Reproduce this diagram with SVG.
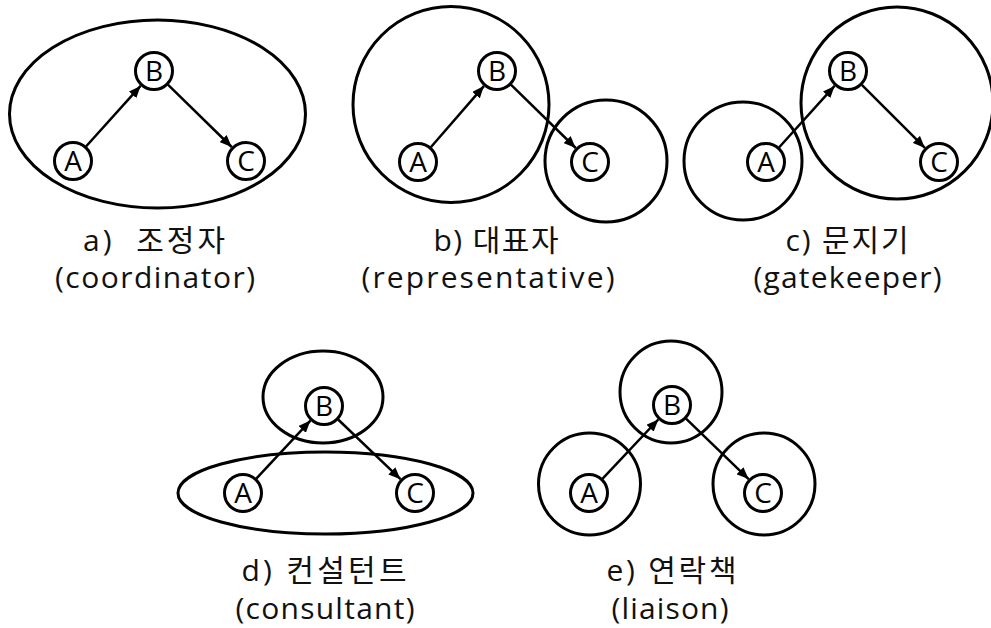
<svg xmlns="http://www.w3.org/2000/svg" width="991" height="628" viewBox="0 0 991 628">
<defs>
<marker id="ah" markerUnits="userSpaceOnUse" markerWidth="12" markerHeight="10" refX="12" refY="5" orient="auto">
<path d="M0,0 L12,5 L0,10 z" fill="#000"/>
</marker>
<style>
.grp{fill:none;stroke:#000;stroke-width:3}
.nd{fill:#fff;stroke:#000;stroke-width:3}
.nt{font-family:"Open Sans","Noto Sans CJK KR",sans-serif;font-size:28px;text-anchor:middle;fill:#000}
.lb{font-family:"Open Sans","Noto Sans CJK KR",sans-serif;font-size:30px;text-anchor:middle;fill:#111;white-space:pre}
.ed{stroke:#000;stroke-width:2.5;fill:none;marker-end:url(#ah)}
</style>
</defs>
<rect width="991" height="628" fill="#fff"/>

<g id="groups">
<ellipse class="grp" cx="157.5" cy="114" rx="148" ry="94"/>
<circle class="grp" cx="451" cy="104.5" r="98"/>
<circle class="grp" cx="606" cy="161" r="61"/>
<circle class="grp" cx="743" cy="161" r="59"/>
<circle class="grp" cx="897" cy="103" r="96"/>
<ellipse class="grp" cx="323" cy="397" rx="60" ry="46"/>
<ellipse class="grp" cx="325.5" cy="493" rx="147.5" ry="41"/>
<circle class="grp" cx="671" cy="392" r="51"/>
<circle class="grp" cx="589.5" cy="484" r="51"/>
<circle class="grp" cx="764" cy="484" r="51"/>
</g>

<g id="connectors">
<line class="ed" x1="86" y1="146.5" x2="140.6" y2="85.9"/>
<line class="ed" x1="167.9" y1="84.6" x2="231.7" y2="147"/>
<line class="ed" x1="430.8" y1="147.3" x2="483.9" y2="86.1"/>
<line class="ed" x1="510.9" y1="84.6" x2="575.7" y2="148"/>
<line class="ed" x1="779" y1="147.5" x2="834.6" y2="85.9"/>
<line class="ed" x1="861.8" y1="84.8" x2="924.9" y2="147.9"/>
<line class="ed" x1="256.3" y1="478.7" x2="310.4" y2="420.6"/>
<line class="ed" x1="338.1" y1="419.5" x2="400.5" y2="479.2"/>
<line class="ed" x1="602.4" y1="478.8" x2="658.3" y2="419.5"/>
<line class="ed" x1="686" y1="418.6" x2="748.6" y2="479.1"/>
</g>

<g id="a-A"><circle class="nd" cx="73" cy="161" r="18.5"/><text class="nt" x="73" y="171">A</text></g>
<g id="a-B"><circle class="nd" cx="154" cy="71" r="18.5"/><text class="nt" x="154" y="81">B</text></g>
<g id="a-C"><circle class="nd" cx="246" cy="161" r="18.5"/><text class="nt" x="246" y="171">C</text></g>

<g id="b-A"><circle class="nd" cx="418" cy="162" r="18.5"/><text class="nt" x="418" y="172">A</text></g>
<g id="b-B"><circle class="nd" cx="497" cy="71" r="18.5"/><text class="nt" x="497" y="81">B</text></g>
<g id="b-C"><circle class="nd" cx="590" cy="162" r="18.5"/><text class="nt" x="590" y="172">C</text></g>

<g id="c-A"><circle class="nd" cx="766" cy="162" r="18.5"/><text class="nt" x="766" y="172">A</text></g>
<g id="c-B"><circle class="nd" cx="848" cy="71" r="18.5"/><text class="nt" x="848" y="81">B</text></g>
<g id="c-C"><circle class="nd" cx="939" cy="162" r="18.5"/><text class="nt" x="939" y="172">C</text></g>

<g id="d-A"><circle class="nd" cx="243" cy="493" r="18.5"/><text class="nt" x="243" y="503">A</text></g>
<g id="d-B"><circle class="nd" cx="324" cy="406" r="18.5"/><text class="nt" x="324" y="416">B</text></g>
<g id="d-C"><circle class="nd" cx="415" cy="493" r="18.5"/><text class="nt" x="415" y="503">C</text></g>

<g id="e-A"><circle class="nd" cx="589" cy="493" r="18.5"/><text class="nt" x="589" y="503">A</text></g>
<g id="e-B"><circle class="nd" cx="672" cy="405" r="18.5"/><text class="nt" x="672" y="415">B</text></g>
<g id="e-C"><circle class="nd" cx="763" cy="493" r="18.5"/><text class="nt" x="763" y="503">C</text></g>

<g id="labels">
<text class="lb" x="154" y="251" textLength="142" lengthAdjust="spacing">a)  조정자</text>
<text class="lb" x="155" y="288" textLength="200" lengthAdjust="spacing">(coordinator)</text>
<text class="lb" x="496" y="251" textLength="125" lengthAdjust="spacing">b) 대표자</text>
<text class="lb" x="488" y="288" textLength="253" lengthAdjust="spacing">(representative)</text>
<text class="lb" x="847" y="251" textLength="123" lengthAdjust="spacing">c) 문지기</text>
<text class="lb" x="847.5" y="288" textLength="188" lengthAdjust="spacing">(gatekeeper)</text>
<text class="lb" x="324" y="581" textLength="165" lengthAdjust="spacing">d) 컨설턴트</text>
<text class="lb" x="325" y="619" textLength="179" lengthAdjust="spacing">(consultant)</text>
<text class="lb" x="671.5" y="581" textLength="130" lengthAdjust="spacing">e) 연락책</text>
<text class="lb" x="670" y="619" textLength="117" lengthAdjust="spacing">(liaison)</text>
</g>
</svg>
